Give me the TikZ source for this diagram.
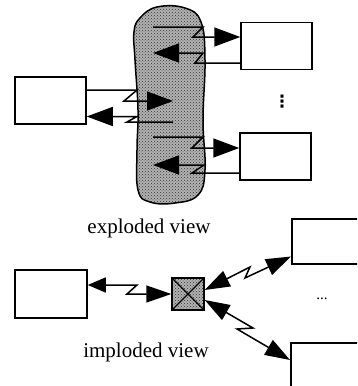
\documentclass[tikz,border=0pt]{standalone}
\usepackage{fontspec}
\setmainfont{Liberation Serif}
\newfontfamily\dotfont{DejaVu Sans}
\usetikzlibrary{arrows.meta,patterns,calc}

\tikzset{
  unit/.style={draw,line width=1.5pt,minimum width=71pt,minimum height=47pt,inner sep=0pt},
  link/.style={line width=1.5pt,-{Triangle[length=26pt,width=19pt]}},
  duplex/.style={line width=1.5pt,{Triangle[length=25pt,width=17pt]}-{Triangle[length=25pt,width=17pt]}},
  caption/.style={font=\fontsize{21}{24}\selectfont},
  speckle/.style={preaction={fill=black!30},pattern=crosshatch dots,pattern color=black!80},
}

\begin{document}
\begin{tikzpicture}[x=1pt,y=-1pt]
\useasboundingbox (0,0) rectangle (357,386);
\clip (0,0) rectangle (357,386);

% exploded view: the cloud in the middle
\draw[line width=1.5pt,speckle] plot[smooth cycle,tension=0.7] coordinates {
  (140,18) (157,7) (185,8) (201,22) (205,60) (203,120) (205,170) (198,195)
  (175,203) (150,202) (138,190) (137,150) (138,110) (135,60) (134,32)};

\node[unit] (tr) at (276.5,46) {};
\node[unit] (lb) at (50.5,100.5) {};
\node[unit] (br) at (275.5,156.5) {};
\node (more) at (282,102) {\dotfont\bfseries\fontsize{17}{17}\selectfont ⋮};

% loose ends inside the cloud
\coordinate (t1) at (153,27);
\coordinate (t2) at (153,53);
\coordinate (m1) at (173,101);
\coordinate (m2) at (173,122);
\coordinate (b1) at (153,137);
\coordinate (b2) at (153,165);

\draw[link] (t1) -- (203,27) -- (193,37) -- ($(tr.west)+(0,-9)$);
\draw[link] ($(tr.west)+(0,17)$) -- (195,63) -- (203,53) -- (t2);
\draw[link] ($(lb.east)+(0,-10.5)$) -- (137,90) -- (124,101) -- (m1);
\draw[link] (m2) -- (127,122) -- (137,116.5) -- ($(lb.east)+(0,16)$);
\draw[link] (b1) -- (203,137) -- (192,148) -- ($(br.west)+(0,-8.5)$);
\draw[link] ($(br.west)+(0,16.5)$) -- (192,173) -- (204,165) -- (b2);

\node[caption] (exp) at (149,228) {exploded view};

% imploded view
\node[unit,minimum width=72pt,minimum height=48pt] (il) at (51,294) {};
\node[draw,line width=1.5pt,speckle,minimum size=32pt,inner sep=0pt] (hub) at (188,294) {};
\draw[line width=1.1pt] (hub.north west) -- (hub.south east) (hub.north east) -- (hub.south west);
\node[unit,anchor=north west,minimum width=110pt,minimum height=45pt] (ir1) at (291,218) {};
\node[unit,anchor=north west,minimum width=110pt,minimum height=60pt] (ir2) at (290,342) {};
\node (etc) at (322,299) {\fontsize{15}{15}\selectfont...};

\draw[duplex,{Triangle[length=18pt,width=15pt]}-{Triangle[length=25pt,width=17pt]}]
  ($(il.east)+(0,-9)$) -- (137,285) -- (127,294) -- (hub.west);
\draw[duplex] ($(hub.east)+(0,-4)$) -- (250,267) -- (245,278) -- ($(ir1.south west)+(0,-8)$);
\draw[duplex] ($(hub.east)+(0,6)$) -- (253,328) -- (237,329) -- ($(ir2.north west)+(0,18)$);

\node[caption] (imp) at (146,352) {imploded view};
\end{tikzpicture}
\end{document}
